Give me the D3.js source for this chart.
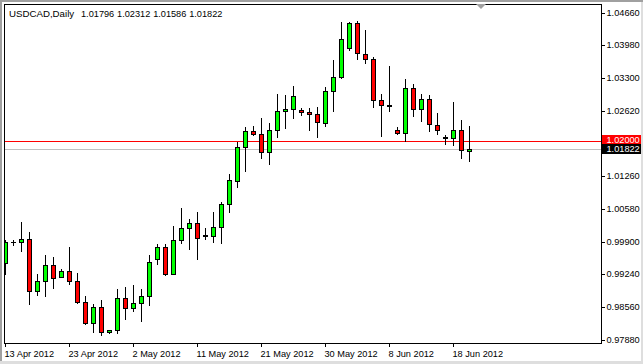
<!DOCTYPE html>
<html>
<head>
<meta charset="utf-8">
<script src="https://cdn.jsdelivr.net/npm/d3@7"></script>
<style>
body { margin: 0; background: #fff; }
svg { display: block; font-family: "Liberation Sans", Arial, sans-serif; }
</style>
</head>
<body>
<svg id="chart" width="643" height="364"></svg>
<script>
// daily bars, sunday sessions included (as the broker feed shows them)
var dates = [
  "2012-04-13","2012-04-15","2012-04-16","2012-04-17","2012-04-18","2012-04-19","2012-04-20","2012-04-22",
  "2012-04-23","2012-04-24","2012-04-25","2012-04-26","2012-04-27","2012-04-29","2012-04-30","2012-05-01",
  "2012-05-02","2012-05-03","2012-05-04","2012-05-06","2012-05-07","2012-05-08","2012-05-09","2012-05-10",
  "2012-05-11","2012-05-13","2012-05-14","2012-05-15","2012-05-16","2012-05-17","2012-05-18","2012-05-20",
  "2012-05-21","2012-05-22","2012-05-23","2012-05-24","2012-05-25","2012-05-27","2012-05-28","2012-05-29",
  "2012-05-30","2012-05-31","2012-06-01","2012-06-03","2012-06-04","2012-06-05","2012-06-06","2012-06-07",
  "2012-06-08","2012-06-10","2012-06-11","2012-06-12","2012-06-13","2012-06-14","2012-06-15","2012-06-17",
  "2012-06-18","2012-06-19","2012-06-20"
];
var open = [
  0.99456,0.99898,0.99906,0.99968,0.98890,0.99083,0.99435,0.99180,
  0.99290,0.99103,0.98662,0.98226,0.98558,0.98040,0.98081,0.98745,
  0.98537,0.98641,0.98786,0.99553,0.99802,0.99242,0.99947,1.00196,
  1.00300,1.00034,1.00030,1.00217,1.00685,1.01170,1.01875,1.02207,
  1.02145,1.01772,1.02228,1.02622,1.02663,1.02643,1.02601,1.02560,
  1.02373,1.03037,1.03327,1.03928,1.04446,1.03804,1.03700,1.02850,
  1.02730,1.02228,1.02166,1.03099,1.02663,1.02871,1.02332,1.02065,
  1.02062,1.02228,1.01796
];
var high = [
  0.99933,0.99953,1.00320,1.00099,0.99228,0.99622,0.99586,0.99352,
  0.99788,0.99269,0.98792,0.98620,0.98689,0.98087,0.98937,0.98964,
  0.99020,0.98917,0.99622,0.99850,0.99864,1.00223,1.00611,1.00380,
  1.00528,1.00196,1.00528,1.00735,1.01316,1.01979,1.02276,1.02317,
  1.02477,1.02359,1.02974,1.02954,1.03126,1.02684,1.02684,1.02705,
  1.03120,1.03679,1.04459,1.04459,1.04494,1.04287,1.03742,1.02974,
  1.03561,1.02290,1.03271,1.03182,1.02974,1.02945,1.02572,1.02110,
  1.02794,1.02435,1.02312
];
var low = [
  0.99248,0.99829,0.99711,0.98620,0.98799,0.98778,0.98944,0.99166,
  0.99027,0.98647,0.98206,0.98040,0.97969,0.98019,0.98011,0.98301,
  0.98467,0.98259,0.98591,0.99450,0.99213,0.99228,0.99877,0.99752,
  0.99553,0.99968,0.99897,0.99877,1.00519,1.01046,1.01370,1.02124,
  1.01639,1.01515,1.02075,1.02261,1.02468,1.02531,1.02220,1.02083,
  1.02311,1.02614,1.03312,1.03878,1.03686,1.03617,1.02701,1.02095,
  1.02614,1.02137,1.02006,1.02510,1.02406,1.02207,1.02145,1.01938,
  1.01909,1.01647,1.01586
];
var close = [
  0.99906,0.99902,0.99968,0.98890,0.99083,0.99435,0.99151,0.99290,
  0.99097,0.98662,0.98226,0.98558,0.98040,0.98081,0.98745,0.98537,
  0.98641,0.98786,0.99491,0.99802,0.99242,0.99947,1.00188,1.00300,
  0.99989,1.00040,1.00217,1.00685,1.01191,1.01875,1.02207,1.02145,
  1.01772,1.02228,1.02622,1.02663,1.02933,1.02601,1.02560,1.02394,
  1.03037,1.03327,1.04115,1.04446,1.03810,1.03692,1.02850,1.02732,
  1.02734,1.02166,1.03099,1.02663,1.02871,1.02338,1.02228,1.02085,
  1.02228,1.01813,1.01822
];
var yTicks = [1.04660, 1.03980, 1.03300, 1.02620, 1.01260, 1.00580, 0.99900, 0.99240, 0.98560, 0.97880];
var xLabelDates = ["2012-04-13","2012-04-23","2012-05-02","2012-05-11","2012-05-21","2012-05-30","2012-06-08","2012-06-18"];
var alertLevel = 1.02000;
var bidLevel = 1.01822;
var symbolName = "USDCAD,Daily";

var svg = d3.select("#chart");
var fmtDate = d3.timeFormat("%-d %b %Y"), parseDate = d3.timeParse("%Y-%m-%d");
var fmtPrice = d3.format(".5f");
var fontSize = "9.2px";

var x = d3.scaleLinear().domain([0, dates.length - 1]).range([5, 5 + 8 * (dates.length - 1)]);
var y = d3.scaleLinear().domain([0.9788, 1.0466]).range([339.5, 12.5]);
function row(v) { return Math.round(y(v)); }

var bars = dates.map(function (d, i) {
    return {i: i, date: d, o: open[i], h: high[i], l: low[i], c: close[i]};
});
var last = bars[bars.length - 1];

// window edge
svg.append("rect").attr("width", 643).attr("height", 364).attr("fill", "#fff");
svg.append("rect").attr("x", 0).attr("y", 0).attr("width", 643).attr("height", 2).attr("fill", "#a0a0a0");
svg.append("rect").attr("x", 0).attr("y", 0).attr("width", 2).attr("height", 364).attr("fill", "#a0a0a0");
svg.append("rect").attr("x", 0).attr("y", 361).attr("width", 643).attr("height", 3).attr("fill", "#dedede");
svg.append("rect").attr("x", 641).attr("y", 2).attr("width", 2).attr("height", 362).attr("fill", "#dedede");

svg.append("defs").append("clipPath").attr("id", "plot")
    .append("rect").attr("x", 5).attr("y", 5).attr("width", 596).attr("height", 338);

var plot = svg.append("g").attr("clip-path", "url(#plot)").attr("shape-rendering", "crispEdges");

// price lines
plot.append("line")
    .attr("x1", 5).attr("x2", 601)
    .attr("y1", row(alertLevel) + 0.5).attr("y2", row(alertLevel) + 0.5)
    .attr("stroke", "#ff0000");
plot.append("line")
    .attr("x1", 5).attr("x2", 601)
    .attr("y1", row(bidLevel) + 0.5).attr("y2", row(bidLevel) + 0.5)
    .attr("stroke", "#c0c0c0");

var candle = plot.selectAll(".candle")
    .data(bars)
    .enter()
    .append("g")
    .attr("class", "candle");

candle.append("line")
    .attr("x1", function (d) { return x(d.i) + 0.5; })
    .attr("x2", function (d) { return x(d.i) + 0.5; })
    .attr("y1", function (d) { return row(d.h); })
    .attr("y2", function (d) { return row(d.l) + 1; })
    .attr("stroke", "#000");

candle.filter(function (d) { return row(d.o) !== row(d.c); })
    .append("rect")
    .attr("x", function (d) { return x(d.i) - 1.5; })
    .attr("y", function (d) { return row(Math.max(d.o, d.c)) + 0.5; })
    .attr("width", 4)
    .attr("height", function (d) { return row(Math.min(d.o, d.c)) - row(Math.max(d.o, d.c)); })
    .attr("fill", function (d) { return d.c >= d.o ? "#00ff00" : "#ff0000"; })
    .attr("stroke", "#000");

candle.filter(function (d) { return row(d.o) === row(d.c); })
    .append("line")
    .attr("x1", function (d) { return x(d.i) - 2; })
    .attr("x2", function (d) { return x(d.i) + 3; })
    .attr("y1", function (d) { return row(d.o) + 0.5; })
    .attr("y2", function (d) { return row(d.o) + 0.5; })
    .attr("stroke", "#000");

// frame
svg.append("rect")
    .attr("x", 4.5).attr("y", 4.5).attr("width", 597).attr("height", 339)
    .attr("fill", "none").attr("stroke", "#000").attr("shape-rendering", "crispEdges");

// chart shift marker
svg.append("path")
    .attr("d", "M476,4 L486,4 L481,9 Z")
    .attr("fill", "#a0a0a0");

// price axis
var yAxis = svg.append("g")
    .attr("transform", "translate(601,0)")
    .call(d3.axisRight(y).tickValues(yTicks).tickSize(4).tickPadding(1.5).tickFormat(fmtPrice));
yAxis.select(".domain").remove();
yAxis.attr("font-family", null).attr("font-size", fontSize);
yAxis.selectAll(".tick").attr("transform", function (d) { return "translate(0," + (row(d) + 0.5) + ")"; });
yAxis.selectAll(".tick line").attr("shape-rendering", "crispEdges");
yAxis.selectAll(".tick text").attr("fill", "#000");

// time axis
var xIdx = xLabelDates.map(function (d) { return dates.indexOf(d); });
var xAxis = svg.append("g")
    .attr("transform", "translate(0,343)")
    .call(d3.axisBottom(x).tickValues(xIdx).tickSize(4).tickPadding(3)
        .tickFormat(function (i) { return fmtDate(parseDate(dates[i])); }));
xAxis.select(".domain").remove();
xAxis.attr("font-family", null).attr("font-size", fontSize);
xAxis.selectAll(".tick").attr("transform", function (d) { return "translate(" + (x(d) + 0.5) + ",0)"; });
xAxis.selectAll(".tick line").attr("shape-rendering", "crispEdges");
xAxis.selectAll(".tick text").attr("text-anchor", "start").attr("x", -1).attr("fill", "#000");

// price tags on the scale
var tags = [
    {v: alertLevel, top: 135, h: 9, bg: "#ff0000"},
    {v: bidLevel, top: 144, h: 10, bg: "#000000"}
];
var tag = svg.selectAll(".tag").data(tags).enter().append("g").attr("class", "tag");
tag.append("rect")
    .attr("x", 602).attr("y", function (d) { return d.top; })
    .attr("width", 39).attr("height", function (d) { return d.h; })
    .attr("fill", function (d) { return d.bg; });
tag.append("text")
    .attr("x", 606.5).attr("y", function (d) { return d.top + d.h / 2; })
    .attr("dy", "0.35em")
    .attr("font-size", fontSize)
    .attr("fill", "#fff")
    .text(function (d) { return fmtPrice(d.v); });

// header: symbol and OHLC of the last bar
var header = svg.append("text")
    .attr("y", 16.5)
    .attr("fill", "#000");
header.append("tspan")
    .attr("x", 9)
    .attr("font-size", "9.7px")
    .text(symbolName);
header.append("tspan")
    .attr("x", 81)
    .attr("font-size", fontSize)
    .attr("word-spacing", "0.3px")
    .text([last.o, last.h, last.l, last.c].map(fmtPrice).join(" "));
</script>
</body>
</html>
